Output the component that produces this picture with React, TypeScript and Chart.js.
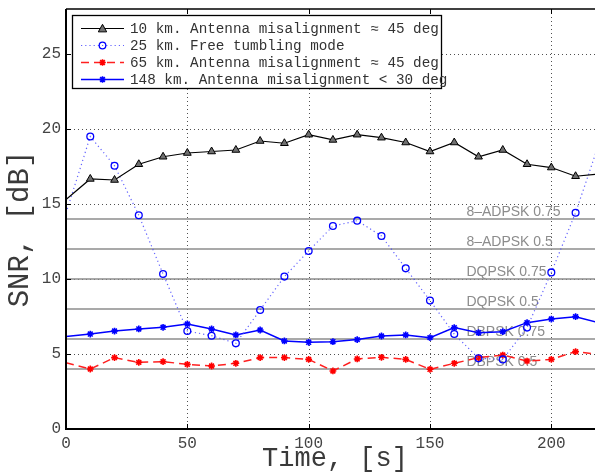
import React, { useEffect, useRef } from 'react';
import { Chart, registerables } from 'chart.js';

Chart.register(...registerables);

const times = [0, 10, 20, 30, 40, 50, 60, 70, 80, 90, 100, 110, 120, 130, 140, 150, 160, 170, 180, 190, 200, 210, 220];
const snr10km = [15.3, 16.67, 16.6, 17.65, 18.15, 18.4, 18.5, 18.6, 19.2, 19.05, 19.62, 19.27, 19.62, 19.42, 19.1, 18.5, 19.1, 18.15, 18.6, 17.65, 17.43, 16.85, 17.0];
const snr25km = [14.4, 19.5, 17.55, 14.25, 10.33, 6.53, 6.22, 5.71, 7.93, 10.16, 11.87, 13.53, 13.89, 12.87, 10.71, 8.56, 6.33, 4.71, 4.64, 6.76, 10.44, 14.42, 19.2];
const snr65km = [4.42, 4.0, 4.76, 4.44, 4.49, 4.31, 4.2, 4.38, 4.76, 4.76, 4.64, 3.87, 4.67, 4.78, 4.64, 3.98, 4.38, 4.76, 4.93, 4.53, 4.64, 5.16, 4.96];
const snr148km = [6.16, 6.33, 6.53, 6.67, 6.78, 7.0, 6.67, 6.27, 6.6, 5.87, 5.78, 5.82, 5.96, 6.2, 6.27, 6.09, 6.76, 6.42, 6.49, 7.09, 7.33, 7.49, 7.07];

const seriesLabels = [
  '10 km. Antenna misalignment \u2248 45 deg',
  '25 km. Free tumbling mode',
  '65 km. Antenna misalignment \u2248 45 deg',
  '148 km. Antenna misalignment < 30 deg',
];

const thresholdValues = [14, 12, 10, 8, 6, 4];
const thresholdLabels = ['8\u2013ADPSK 0.75', '8\u2013ADPSK 0.5', 'DQPSK 0.75', 'DQPSK 0.5', 'DBPSK 0.75', 'DBPSK 0.5'];
const thresholdLabelX = 165;

const xTicks = [0, 50, 100, 150, 200];
const yTicks = [0, 5, 10, 15, 20, 25];
const xMin = 0;
const xMax = 218;
const yMin = 0;
const yMax = 28;
const xTitle = 'Time, [s]';
const yTitle = 'SNR, [dB]';

const MONO = '"Courier New", "Liberation Mono", monospace';
const SANS = '"Liberation Sans", Arial, sans-serif';

const styles = [
  { color: '#000000', dash: [] as number[], width: 1.2, marker: 'triangle', markerFill: '#707070', markerStroke: '#000000' },
  { color: 'rgba(70,70,255,0.85)', dash: [1.2, 3], width: 1.2, marker: 'circle', markerFill: 'rgba(0,0,0,0)', markerStroke: '#0000ff' },
  { color: '#ff2020', dash: [8, 5], width: 1.5, marker: 'star', markerFill: '#ff0000', markerStroke: '#ff0000' },
  { color: '#0000ff', dash: [] as number[], width: 1.5, marker: 'star', markerFill: '#0000ff', markerStroke: '#0000ff' },
];

function drawMarker(ctx: CanvasRenderingContext2D, kind: string, cx: number, cy: number, fill: string, stroke: string) {
  ctx.save();
  ctx.setLineDash([]);
  ctx.fillStyle = fill;
  ctx.strokeStyle = stroke;
  if (kind === 'triangle') {
    const r = 4.2;
    ctx.lineWidth = 1;
    ctx.beginPath();
    ctx.moveTo(cx, cy - r);
    ctx.lineTo(cx + r, cy + r * 0.8);
    ctx.lineTo(cx - r, cy + r * 0.8);
    ctx.closePath();
    ctx.fill();
    ctx.stroke();
  } else if (kind === 'circle') {
    ctx.lineWidth = 1.3;
    ctx.beginPath();
    ctx.arc(cx, cy, 3.3, 0, Math.PI * 2);
    ctx.stroke();
  } else {
    const r = 3.3;
    ctx.lineWidth = 1.6;
    ctx.beginPath();
    for (let k = 0; k < 4; k++) {
      const ang = (k * Math.PI) / 4;
      ctx.moveTo(cx - Math.cos(ang) * r, cy - Math.sin(ang) * r);
      ctx.lineTo(cx + Math.cos(ang) * r, cy + Math.sin(ang) * r);
    }
    ctx.stroke();
  }
  ctx.restore();
}

const decorPlugin = {
  id: 'decor',
  beforeDatasetsDraw(chart: any) {
    const { ctx, chartArea: a, scales } = chart;
    const x = scales.x;
    const y = scales.y;
    ctx.save();
    ctx.strokeStyle = '#505050';
    ctx.lineWidth = 1;
    ctx.setLineDash([1, 3]);
    xTicks.forEach((v) => {
      if (v === xMin) return;
      const px = Math.round(x.getPixelForValue(v)) + 0.5;
      ctx.beginPath();
      ctx.moveTo(px, a.top);
      ctx.lineTo(px, a.bottom);
      ctx.stroke();
    });
    yTicks.forEach((v) => {
      if (v === yMin) return;
      const py = Math.round(y.getPixelForValue(v)) + 0.5;
      ctx.beginPath();
      ctx.moveTo(a.left, py);
      ctx.lineTo(a.right, py);
      ctx.stroke();
    });
    ctx.setLineDash([]);
    thresholdValues.forEach((v, i) => {
      const py = Math.round(y.getPixelForValue(v));
      ctx.strokeStyle = '#8c8c8c';
      ctx.lineWidth = 1.5;
      ctx.beginPath();
      ctx.moveTo(a.left, py);
      ctx.lineTo(a.right, py);
      ctx.stroke();
      ctx.fillStyle = '#8c8c8c';
      ctx.font = '14px ' + SANS;
      ctx.textAlign = 'left';
      ctx.textBaseline = 'alphabetic';
      ctx.fillText(thresholdLabels[i], x.getPixelForValue(thresholdLabelX), py - 3);
    });
    ctx.restore();
  },
  afterDraw(chart: any) {
    const { ctx, chartArea: a, scales } = chart;
    const x = scales.x;
    const y = scales.y;
    ctx.save();
    ctx.setLineDash([]);
    ctx.strokeStyle = '#000000';
    ctx.lineWidth = 2;
    ctx.beginPath();
    ctx.moveTo(a.left, a.top);
    ctx.lineTo(a.left, a.bottom);
    ctx.lineTo(a.right, a.bottom);
    ctx.stroke();
    ctx.lineWidth = 1.5;
    ctx.beginPath();
    ctx.moveTo(a.left, a.top);
    ctx.lineTo(a.right, a.top);
    ctx.stroke();
    ctx.lineWidth = 1;
    yTicks.forEach((v) => {
      const py = Math.round(y.getPixelForValue(v)) + 0.5;
      ctx.beginPath();
      ctx.moveTo(a.left, py);
      ctx.lineTo(a.left + 5, py);
      ctx.stroke();
    });
    xTicks.forEach((v) => {
      const px = Math.round(x.getPixelForValue(v)) + 0.5;
      ctx.beginPath();
      ctx.moveTo(px, a.bottom);
      ctx.lineTo(px, a.bottom - 5);
      ctx.moveTo(px, a.top);
      ctx.lineTo(px, a.top + 5);
      ctx.stroke();
    });
    ctx.fillStyle = '#3a3a3a';
    ctx.font = '27px ' + MONO;
    ctx.textAlign = 'center';
    ctx.textBaseline = 'alphabetic';
    ctx.fillText(xTitle, 335, 466);
    ctx.save();
    ctx.translate(28, 229);
    ctx.rotate(-Math.PI / 2);
    ctx.font = '29px ' + MONO;
    ctx.fillText(yTitle, 0, 0);
    ctx.restore();
    const bx = 72, by = 15, bw = 369, bh = 73;
    ctx.fillStyle = '#ffffff';
    ctx.fillRect(bx, by, bw, bh);
    ctx.strokeStyle = '#000000';
    ctx.lineWidth = 1.3;
    ctx.strokeRect(bx + 0.5, by + 0.5, bw, bh);
    chart.data.datasets.forEach((ds: any, i: number) => {
      const st = styles[i];
      const ry = Math.round(27.5 + i * 17) + 0.5;
      ctx.save();
      ctx.strokeStyle = st.color;
      ctx.lineWidth = st.width;
      ctx.setLineDash(st.dash);
      ctx.beginPath();
      ctx.moveTo(81, ry);
      ctx.lineTo(124, ry);
      ctx.stroke();
      ctx.restore();
      drawMarker(ctx, st.marker, 102.5, ry, st.markerFill, st.markerStroke);
      ctx.fillStyle = '#333333';
      ctx.font = '14.3px ' + MONO;
      ctx.textAlign = 'left';
      ctx.textBaseline = 'middle';
      ctx.fillText(ds.label, 130, ry + 0.5);
    });
    ctx.restore();
  },
};

export default function App() {
  const canvasRef = useRef<HTMLCanvasElement | null>(null);

  useEffect(() => {
    const canvas = canvasRef.current;
    if (!canvas) return;
    const seriesValues = [snr10km, snr25km, snr65km, snr148km];
    const datasets = seriesValues.map((vals, i) => {
      const st = styles[i];
      return {
        label: seriesLabels[i],
        data: times.map((t, k) => ({ x: t, y: vals[k] })),
        borderColor: st.color,
        borderWidth: st.width,
        borderDash: st.dash,
        backgroundColor: st.markerFill,
        pointStyle: st.marker,
        pointRadius: times.map((t) => (t === 0 ? 0 : st.marker === 'triangle' ? 4.5 : 3.4)),
        pointBorderColor: st.markerStroke,
        pointBackgroundColor: st.markerFill,
        pointBorderWidth: st.marker === 'star' ? 1.6 : st.marker === 'circle' ? 1.3 : 1,
        pointHoverRadius: 0,
        fill: false,
        tension: 0,
      };
    });
    const chart = new Chart(canvas, {
      type: 'line',
      data: { datasets },
      options: {
        responsive: false,
        animation: false,
        devicePixelRatio: 1,
        layout: { autoPadding: false, padding: { left: 0, top: 9, right: 0, bottom: 0 } },
        plugins: { legend: { display: false }, tooltip: { enabled: false } },
        scales: {
          x: {
            type: 'linear',
            min: xMin,
            max: xMax,
            afterFit: (s: any) => {
              s.height = 46;
              s.paddingLeft = 0;
              s.paddingRight = 0;
              s.paddingTop = 0;
              s.paddingBottom = 0;
            },
            afterBuildTicks: (s: any) => { s.ticks = xTicks.map((v) => ({ value: v })); },
            ticks: {
              color: '#444444',
              font: { family: MONO, size: 16 },
              padding: 5,
              maxRotation: 0,
              autoSkip: false,
            },
            grid: { display: false, drawTicks: false },
            border: { display: false },
          },
          y: {
            type: 'linear',
            min: yMin,
            max: yMax,
            afterFit: (s: any) => {
              s.width = 66;
              s.paddingLeft = 0;
              s.paddingRight = 0;
              s.paddingTop = 0;
              s.paddingBottom = 0;
            },
            afterBuildTicks: (s: any) => { s.ticks = yTicks.map((v) => ({ value: v })); },
            ticks: {
              color: '#444444',
              font: { family: MONO, size: 16 },
              padding: 5,
              autoSkip: false,
            },
            grid: { display: false, drawTicks: false },
            border: { display: false },
          },
        },
      },
      plugins: [decorPlugin],
    });
    return () => chart.destroy();
  }, []);

  return (
    <div style={{ position: 'absolute', left: 0, top: 0, width: 595, height: 475, background: '#ffffff' }}>
      <canvas ref={canvasRef} width={595} height={475} style={{ display: 'block' }} />
    </div>
  );
}
